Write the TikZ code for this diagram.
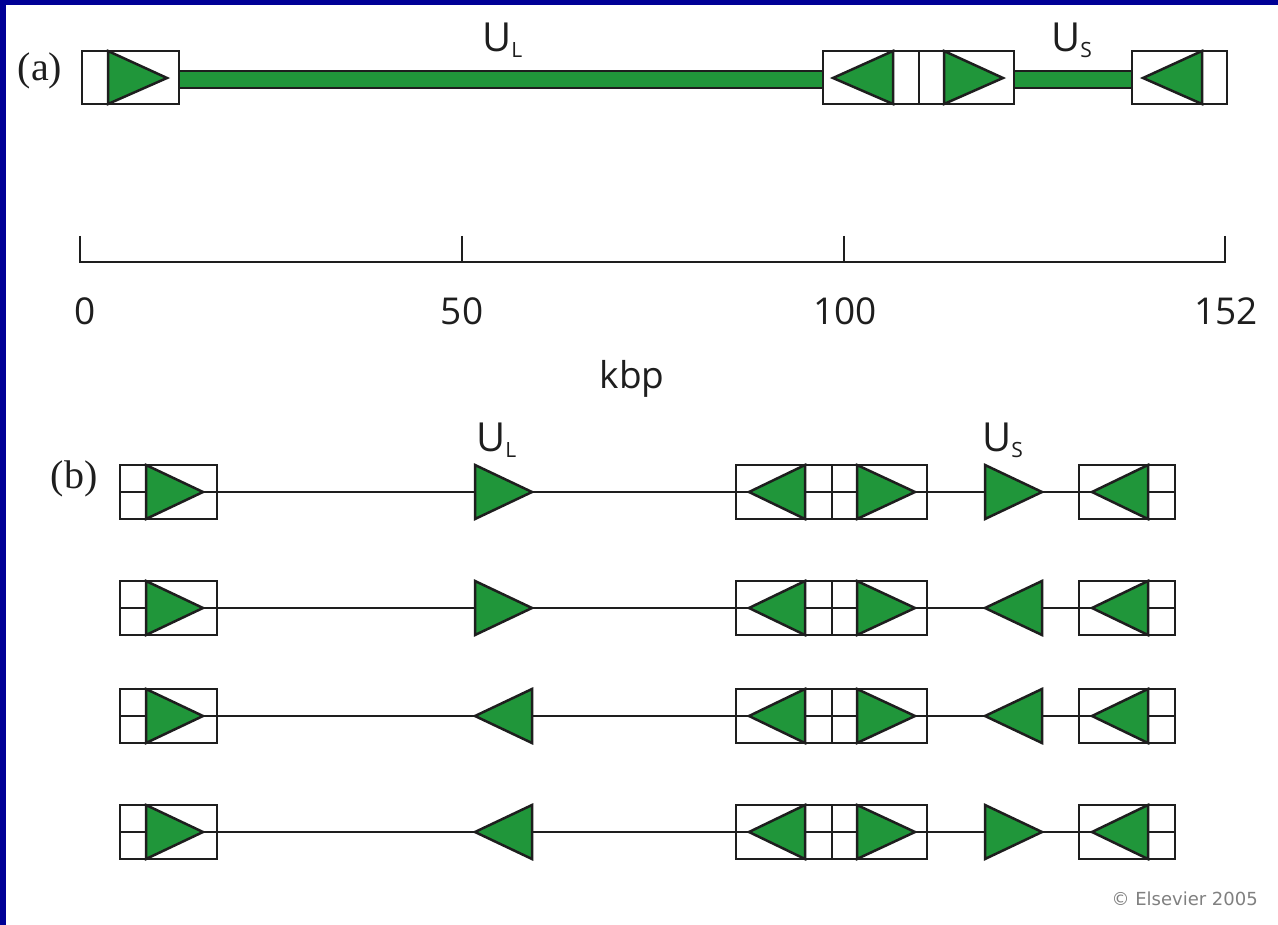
\documentclass[tikz,border=0pt]{standalone}
\usepackage{fontspec}
\setmainfont{Liberation Serif}
\newfontfamily\labfont{Open Sans}
\newfontfamily\cpfont{DejaVu Sans}
\definecolor{gen}{RGB}{32,150,58}
\definecolor{frameblue}{RGB}{0,0,150}
\definecolor{ink}{RGB}{30,30,30}
\tikzset{
  boxline/.style={draw=ink, line width=2.5pt},
  tri/.style={fill=gen, draw=ink, line width=2.5pt, line join=miter},
  thinline/.style={draw=ink, line width=2.2pt},
  bar/.style={fill=gen, draw=ink, line width=1.4pt},
  lab/.style={inner sep=0pt, font=\labfont\fontsize{40}{40}\selectfont, text=ink},
  num/.style={inner sep=0pt, anchor=base, font=\labfont\fontsize{37}{37}\selectfont, text=ink},
  panel/.style={inner sep=0pt, font=\fontsize{40}{40}\selectfont, text=ink},
}
\newcommand{\ulab}[1]{U\raisebox{-6pt}{\fontsize{21}{21}\selectfont #1}}
\newcommand{\brow}[6]{%
  \draw[thinline] (120,#1) -- (1175,#1);
  \filldraw[tri] (146,#1-27) -- (146,#1+27) -- (203,#1) -- cycle;
  \filldraw[tri] (805,#1-27) -- (805,#1+27) -- (749,#1) -- cycle;
  \filldraw[tri] (857,#1-27) -- (857,#1+27) -- (915,#1) -- cycle;
  \filldraw[tri] (1148,#1-27) -- (1148,#1+27) -- (1092,#1) -- cycle;
  \filldraw[tri] (#2,#1-27) -- (#2,#1+27) -- (#3,#1) -- cycle;
  \filldraw[tri] (#4,#1-27) -- (#4,#1+27) -- (#5,#1) -- cycle;
  \draw[boxline] (120,#1-27) rectangle (217,#1+27);
  \draw[boxline] (736,#1-27) rectangle (927,#1+27);
  \draw[boxline] (832,#1-27) -- (832,#1+27);
  \draw[boxline] (1079,#1-27) rectangle (1175,#1+27);
  \coordinate (row#6) at (120,#1);
}
\begin{document}
\begin{tikzpicture}[x=1pt,y=-1pt]
\fill[frameblue] (0,0) rectangle (1278,925);
\fill[white] (6,5) rectangle (1278,925);
\useasboundingbox (0,0) rectangle (1278,925);

% ---------- (a) ----------
\node[panel] (pa) at (40,71) {(a)};
\draw[bar] (179,71) rectangle (823,88);
\draw[bar] (1014,71) rectangle (1132,88);
\filldraw[tri] (108,51) -- (108,104) -- (167,78) -- cycle;
\filldraw[tri] (893,51) -- (893,104) -- (833,78) -- cycle;
\filldraw[tri] (944,51) -- (944,104) -- (1003,78) -- cycle;
\filldraw[tri] (1202,51) -- (1202,104) -- (1143,78) -- cycle;
\draw[boxline] (82,51) rectangle (179,104);
\draw[boxline] (823,51) rectangle (1014,104);
\draw[boxline] (919,51) -- (919,104);
\draw[boxline] (1132,51) rectangle (1227,104);
\node[lab, anchor=base west] (aUL) at (482,52) {\ulab{L}};
\node[lab, anchor=base west] (aUS) at (1051,52) {\ulab{S}};

% ---------- scale ----------
\draw[thinline] (80,262) -- (1225,262);
\foreach \x in {80,462,844,1225} \draw[thinline] (\x,236) -- (\x,263);
\node[num] (n0) at (85,325) {0};
\node[num] (n50) at (462,325) {50};
\node[num] (n100) at (845,325) {100};
\node[num] (n152) at (1226,325) {152};
\node[num] (kbp) at (632,389) {kbp};

% ---------- (b) ----------
\node[panel] (pb) at (74,479) {(b)};
\node[lab, anchor=base west] (bUL) at (476,451) {\ulab{L}};
\node[lab, anchor=base west] (bUS) at (982,451) {\ulab{S}};
\brow{492}{475}{532}{985}{1042}{1}
\brow{608}{475}{532}{1042}{985}{2}
\brow{716}{532}{475}{1042}{985}{3}
\brow{832}{532}{475}{985}{1042}{4}

\node[anchor=base east, inner sep=0pt, text=black!50,
      font=\cpfont\fontsize{18}{18}\selectfont] (cp) at (1258,905) {© Elsevier 2005};
\end{tikzpicture}
\end{document}
